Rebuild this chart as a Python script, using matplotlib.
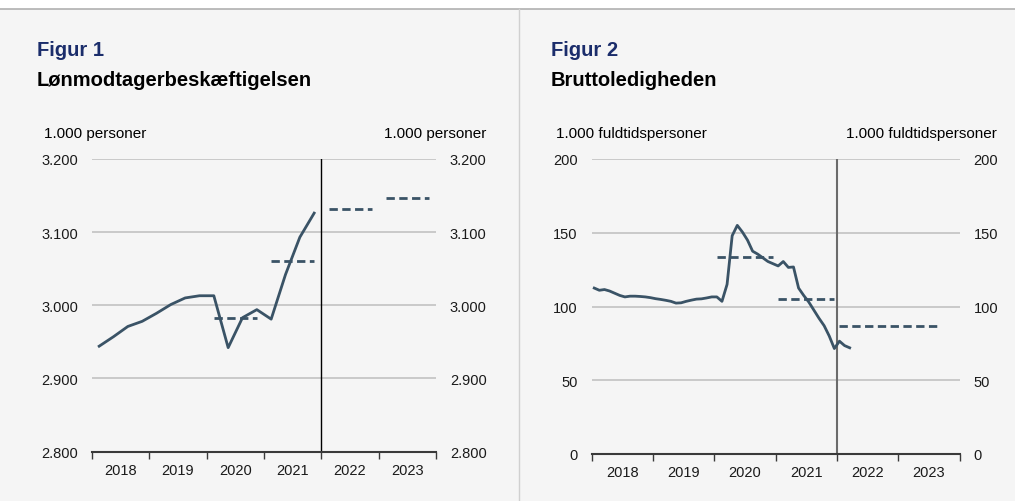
import numpy as np
import matplotlib
matplotlib.use("Agg")
from matplotlib import pyplot as plt
from matplotlib.ticker import FuncFormatter

plt.rcParams['font.family'] = ['Liberation Sans', 'DejaVu Sans']

BG = '#f5f5f5'
LINE = '#3a5366'
NAVY = '#1b2d6b'
GRID = '#bdbdbd'

# Figur 1: quarterly employment (1.000 persons), 2018K1-2021K4
emp_start = 2018
emp = [2944, 2957, 2971, 2978, 2989, 3001, 3010, 3013,
       3013, 2942, 2983, 2994, 2981, 3042, 3093, 3126]
emp_years = [2020, 2021, 2022, 2023]
emp_avg = [2983, 3060, 3131, 3146]

# Figur 2: monthly gross unemployment (1.000 full-time persons), Jan 2018 - Mar 2022
unemp_start = 2018
unemp = [112.5, 111, 111.5, 110.5, 109, 107.5, 106.5, 107, 107, 106.8, 106.5, 106,
         105.3, 104.8, 104.2, 103.5, 102.3, 102.5, 103.5, 104.3, 105, 105.2, 105.8, 106.5,
         106.5, 103.5, 115, 148, 155, 150.5, 145, 137.5, 135.5, 133, 130.5, 129,
         127.5, 130.5, 126.5, 126.8, 112.5, 107.5, 103, 97.5, 92, 87, 80, 71.5,
         76.5, 73.5, 72]
# annual averages: (first month, last month, value)
unemp_avg_start = [2020.0, 2021.0, 2022.0]
unemp_avg_end = [2020.0 + 11 / 12, 2021.0 + 11 / 12, 2023.0 + 7 / 12]
unemp_avg = [133.3, 105.4, 86.7]

years = [2018, 2019, 2020, 2021, 2022, 2023]

W, H = 1015, 502
fig = plt.figure(figsize=(W / 100, H / 100), dpi=100)
fig.patch.set_facecolor('white')

# panel background, top rule and divider
fig.add_artist(plt.Rectangle((0, 0), 1, (H - 10) / H, transform=fig.transFigure,
                             facecolor=BG, edgecolor='none', zorder=-10))
fig.add_artist(plt.Line2D([0, 1], [(H - 10) / H] * 2, color='#b0b0b0', lw=1.2))
fig.add_artist(plt.Line2D([519 / W] * 2, [0, (H - 10) / H], color='#d0d0d0', lw=1))


def make_axes(x0, x1, y_top, y_bot):
    return fig.add_axes([x0 / W, (H - y_bot) / H, (x1 - x0) / W, (y_bot - y_top) / H])


def style(ax, yticks, fmt, vline_color, vline_lw):
    ax.set_facecolor('none')
    ax.set_xlim(2018, 2024)
    ax.set_ylim(yticks[0], yticks[-1])
    for s in ['top', 'left', 'right']:
        ax.spines[s].set_visible(False)
    ax.spines['bottom'].set_color('#3a3a3a')
    ax.spines['bottom'].set_linewidth(1.5)
    ax.set_yticks(yticks)
    ax.yaxis.set_major_formatter(FuncFormatter(fmt))
    ax.tick_params(axis='y', length=0, labelsize=10.5, pad=10, labelright=True,
                   labelcolor='#1a1a1a')
    for t in yticks[1:]:
        ax.axhline(t, color=GRID, lw=1.1, zorder=0)
    ax.set_xticks(range(2018, 2025))
    ax.set_xticklabels([])
    ax.set_xticks([y + 0.5 for y in years], minor=True)
    ax.set_xticklabels([str(y) for y in years], minor=True)
    ax.tick_params(axis='x', which='major', length=5, width=1, color='#3a3a3a',
                   direction='out')
    ax.tick_params(axis='x', which='minor', length=0, labelsize=10.5, pad=8,
                   labelcolor='#1a1a1a')
    ax.axvline(2022, color=vline_color, lw=vline_lw, zorder=1)


# ---- Figur 1 ----
ax1 = make_axes(92, 436, 160, 452.5)
style(ax1, [2800, 2900, 3000, 3100, 3200],
      lambda v, p: f"{int(v):,}".replace(',', '.'), 'black', 1)
xq = [emp_start + (i + 0.5) / 4 for i in range(len(emp))]
ax1.plot(xq, emp, color=LINE, lw=2, zorder=3)
for yr, v in zip(emp_years, emp_avg):
    ax1.plot([yr + 0.125, yr + 0.875], [v, v], color=LINE, lw=2,
             ls=(0, (3, 1.6)), zorder=3)

fig.text(37 / W, 1 - 50 / H, 'Figur 1', color=NAVY, fontsize=14.5,
         fontweight='bold', va='center')
fig.text(37 / W, 1 - 80 / H, 'Lønmodtagerbeskæftigelsen', color='black',
         fontsize=14.5, fontweight='bold', va='center')
fig.text(44 / W, 1 - 134 / H, '1.000 personer', fontsize=11, va='center')
fig.text(486 / W, 1 - 134 / H, '1.000 personer', fontsize=11, va='center', ha='right')

# ---- Figur 2 ----
ax2 = make_axes(591.7, 959.5, 160, 455)
style(ax2, [0, 50, 100, 150, 200], lambda v, p: f"{int(v)}", '#6b6b6b', 1.5)
xm = [unemp_start + (i + 0.5) / 12 for i in range(len(unemp))]
ax2.plot(xm, unemp, color=LINE, lw=2, zorder=3)
for a, b, v in zip(unemp_avg_start, unemp_avg_end, unemp_avg):
    ax2.plot([a + 0.5 / 12, b + 0.5 / 12], [v, v], color=LINE, lw=2,
             ls=(0, (3, 1.6)), zorder=3)

fig.text(551 / W, 1 - 50 / H, 'Figur 2', color=NAVY, fontsize=14.5,
         fontweight='bold', va='center')
fig.text(551 / W, 1 - 80 / H, 'Bruttoledigheden', color='black',
         fontsize=14.5, fontweight='bold', va='center')
fig.text(556 / W, 1 - 134 / H, '1.000 fuldtidspersoner', fontsize=11, va='center')
fig.text(997 / W, 1 - 134 / H, '1.000 fuldtidspersoner', fontsize=11, va='center',
         ha='right')

fig.savefig('out.png', dpi=100, facecolor=fig.get_facecolor())
